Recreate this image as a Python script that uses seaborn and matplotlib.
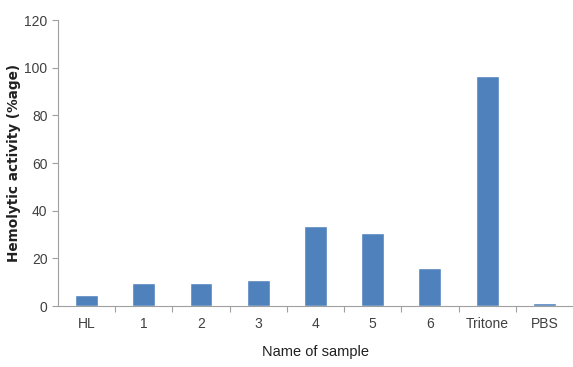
import numpy as np
import pandas as pd
import seaborn as sns
import matplotlib.pyplot as plt

# data
samples = ["HL", "1", "2", "3", "4", "5", "6", "Tritone", "PBS"]
activity = [4.5, 9.5, 9.5, 11.0, 33.5, 30.5, 16.0, 96.5, 1.5]

df = pd.DataFrame({"sample": samples, "activity": activity})

sns.set_style("white")
plt.rcParams['font.family'] = ['Liberation Sans Narrow', 'Liberation Sans', 'DejaVu Sans']

fig, ax = plt.subplots(figsize=(5.73, 3.67), dpi=100)
fig.subplots_adjust(left=0.101, right=1.0, top=0.945, bottom=0.166)

sns.barplot(data=df, x="sample", y="activity", color="#4F81BD",
            width=0.4, saturation=1, ax=ax)

ax.set_xlim(-0.5, len(samples) - 0.5)
ax.set_ylim(0, 120)
ax.set_yticks(np.arange(0, 121, 20))

# tick marks between categories, like excel
ax.set_xticks(np.arange(0.5, len(samples) - 0.5, 1), minor=True)
ax.tick_params(axis='x', which='major', length=0, pad=8, labelsize=10, labelcolor='#404040')
ax.tick_params(axis='x', which='minor', length=4, color='#a0a0a0', width=0.8, direction='out', bottom=True)
ax.tick_params(axis='y', length=4, color='#a0a0a0', width=0.8, direction='out', left=True,
               labelsize=10, labelcolor='#404040')

for side in ['top', 'right']:
    ax.spines[side].set_visible(False)
for side in ['left', 'bottom']:
    ax.spines[side].set_color('#a0a0a0')
    ax.spines[side].set_linewidth(0.8)

ax.set_xlabel("Name of sample", fontsize=10.5, color='#202020', labelpad=10)
ax.set_ylabel("Hemolytic activity (%age)", fontsize=9.8, fontweight='bold',
              family=['DejaVu Sans'], color='#202020')
ax.yaxis.set_label_coords(-0.072, 0.5)

fig.savefig("out.png", dpi=100)
